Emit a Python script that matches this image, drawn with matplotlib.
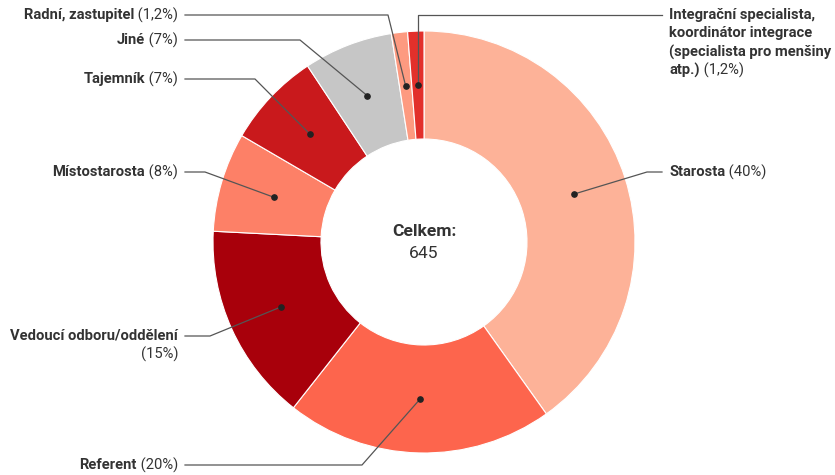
import numpy as np
import matplotlib.pyplot as plt

# data
names = ["Starosta", "Referent", "Vedoucí odboru/oddělení", "Místostarosta",
         "Tajemník", "Jiné", "Radní, zastupitel",
         "Integrační specialista,\nkoordinátor integrace\n(specialista pro menšiny\natp.)"]
counts = [259, 132, 98, 49, 47, 44, 8, 8]
pct_labels = ["(40%)", "(20%)", "(15%)", "(8%)", "(7%)", "(7%)", "(1,2%)", "(1,2%)"]
colors = ["#fdb298", "#fd654d", "#a8000b", "#fd8067", "#c9191c", "#c6c6c6", "#fd9a80", "#e2302b"]
total = 645

W, H = 835, 475
plt.rcParams['font.family'] = ['Roboto', 'DejaVu Sans']
TXT = "#333333"
LN = "#555555"

fig = plt.figure(figsize=(W / 100, H / 100), dpi=100)
ax = fig.add_axes([0, 0, 1, 1])

cx, cy = 424, H - 242
R, r_in = 211, 103
wedges, _ = ax.pie(counts, colors=colors, startangle=90, counterclock=False,
                   center=(cx, cy), radius=R,
                   wedgeprops=dict(width=R - r_in, edgecolor="white", linewidth=0.8))
ax.set_xlim(0, W)
ax.set_ylim(0, H)
ax.set_aspect("equal")
ax.axis("off")

# dots at middle of ring
rm = (R + r_in) / 2
dots = []
for w in wedges:
    a = np.deg2rad((w.theta1 + w.theta2) / 2)
    dots.append((cx + rm * np.cos(a), cy + rm * np.sin(a)))

# label layout: side, text y (pixels from top), elbow x
layout = [
    ("R", 172, 647),
    ("L", 465, 362),
    ("L", 336, 210),
    ("L", 172, 205),
    ("L", 79, 255),
    ("L", 40, 300),
    ("L", 15, 388),
    ("R", 15, None),
]

fs = 10.6
fig.canvas.draw()
rend = fig.canvas.get_renderer()


def text_w(s, weight):
    t = ax.text(0, 0, s, fontsize=fs, fontweight=weight)
    w = t.get_window_extent(rend).width
    t.remove()
    return w


LX, RX = 178, 669
for i, (side, ty, ex) in enumerate(layout):
    y = H - ty
    dx, dy = dots[i]
    ax.plot(dx, dy, "o", color="#222222", ms=3.8, zorder=5)
    if ex is None:
        ex = dx
    if side == "L":
        ax.plot([185, ex, dx], [y, y, dy], color=LN, lw=0.9, zorder=4)
    else:
        ax.plot([dx, ex, 662], [dy, y, y], color=LN, lw=0.9, zorder=4)

    name = names[i]
    pct = pct_labels[i]
    if side == "L":
        if "/" in name:
            ax.text(LX, y, name, ha="right", va="center", fontsize=fs,
                    fontweight="bold", color=TXT)
            ax.text(LX, y - 18.5, pct, ha="right", va="center", fontsize=fs, color=TXT)
        else:
            wp = text_w(" " + pct, "normal")
            ax.text(LX, y, " " + pct, ha="right", va="center", fontsize=fs, color=TXT)
            ax.text(LX - wp, y, name, ha="right", va="center", fontsize=fs,
                    fontweight="bold", color=TXT)
    else:
        lines = name.split("\n")
        for k, ln in enumerate(lines):
            yy = y - k * 18.5
            ax.text(RX, yy, ln, ha="left", va="center", fontsize=fs,
                    fontweight="bold", color=TXT)
            if k == len(lines) - 1:
                wn = text_w(ln, "bold")
                ax.text(RX + wn, yy, " " + pct, ha="left", va="center",
                        fontsize=fs, color=TXT)

ax.text(cx, H - 231, "Celkem:", ha="center", va="center", fontsize=12.6,
        fontweight="bold", color=TXT)
ax.text(cx, H - 254, str(total), ha="center", va="center", fontsize=12.6, color=TXT)

fig.savefig("out.png", dpi=100)
